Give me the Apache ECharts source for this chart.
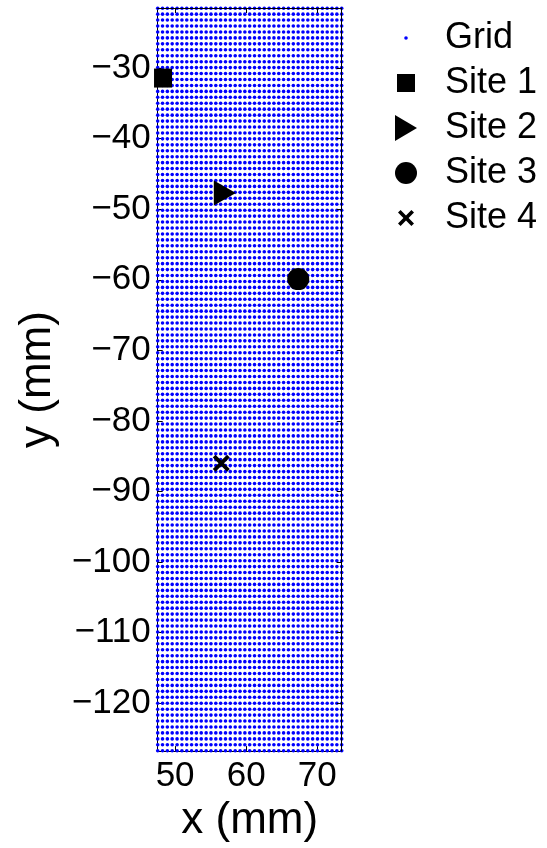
<!DOCTYPE html>
<html><head><meta charset="utf-8">
<script src="https://cdn.jsdelivr.net/npm/echarts@6/dist/echarts.min.js"></script>
<style>html,body{margin:0;padding:0;background:#fff}#c{width:547px;height:848px}</style>
</head><body><div id="c"></div>
<script>
// Grid sample positions (mm)
const gridX = [47.55,48.23,48.91,49.59,50.28,50.96,51.64,52.32,53.00,53.68,54.37,55.05,55.73,56.41,57.09,57.77,58.46,59.14,59.82,60.50,61.18,61.86,62.55,63.23,63.91,64.59,65.27,65.95,66.64,67.32,68.00,68.68,69.36,70.04,70.73,71.41,72.09,72.77,73.45];
const gridY = [-21.50,-22.34,-23.18,-24.03,-24.87,-25.71,-26.55,-27.39,-28.24,-29.08,-29.92,-30.76,-31.60,-32.45,-33.29,-34.13,-34.97,-35.81,-36.66,-37.50,
-38.34,-39.18,-40.02,-40.87,-41.71,-42.55,-43.39,-44.23,-45.08,-45.92,-46.76,-47.60,-48.44,-49.29,-50.13,-50.97,-51.81,-52.65,-53.50,-54.34,
-55.18,-56.02,-56.86,-57.71,-58.55,-59.39,-60.23,-61.07,-61.92,-62.76,-63.60,-64.44,-65.28,-66.13,-66.97,-67.81,-68.65,-69.49,-70.34,-71.18,
-72.02,-72.86,-73.70,-74.55,-75.39,-76.23,-77.07,-77.91,-78.76,-79.60,-80.44,-81.28,-82.12,-82.97,-83.81,-84.65,-85.49,-86.33,-87.18,-88.02,
-88.86,-89.70,-90.54,-91.39,-92.23,-93.07,-93.91,-94.75,-95.60,-96.44,-97.28,-98.12,-98.96,-99.81,-100.65,-101.49,-102.33,-103.17,-104.02,-104.86,
-105.70,-106.54,-107.38,-108.23,-109.07,-109.91,-110.75,-111.59,-112.44,-113.28,-114.12,-114.96,-115.80,-116.65,-117.49,-118.33,-119.17,-120.01,-120.86,-121.70,
-122.54,-123.38,-124.22,-125.07,-125.91,-126.75];

const siteNames = ['Site 1','Site 2','Site 3','Site 4'];
const siteX = [48.3, 57.0, 67.33, 56.5];
const siteY = [-31.4, -47.7, -59.9, -86.0];

const xTicks = [50, 60, 70];
const yTicks = [-30, -40, -50, -60, -70, -80, -90, -100, -110, -120];

const X_MIN = 47.55, X_MAX = 73.45, Y_MIN = -126.8, Y_MAX = -21.47;

// build lattice of grid points from the axis sample lists
const gridPts = [];
for (const y of gridY) for (const x of gridX) gridPts.push([x, y]);

const FONT = 'Liberation Sans';
const fmt = v => String(v).replace('-', '\u2212');

// legend icon paths in a 68x28 box (corner anchors keep scale 1:1)
const A = 'M0,0 L0,0 M68,28 L68,28 ';
const iconGrid = 'path://' + A + 'M32.2,14 A1.8,1.8 0 1 1 35.8,14 A1.8,1.8 0 1 1 32.2,14 Z';
const iconSq = 'path://' + A + 'M25,5 H43 V23 H25 Z';
const iconTri = 'path://' + A + 'M23,1 L45,14 L23,27 Z';
const iconCir = 'path://' + A + 'M23,14 A11,11 0 1 1 45,14 A11,11 0 1 1 23,14 Z';
const iconX = 'path://' + A + 'M26,8.6 L28.6,6 L34,11.4 L39.4,6 L42,8.6 L36.6,14 L42,19.4 L39.4,22 L34,16.6 L28.6,22 L26,19.4 L31.4,14 Z';

const symTri = 'path://M0,0 L1,0.5 L0,1 Z';
const symX = 'path://M0,0.16 L0.16,0 L0.5,0.34 L0.84,0 L1,0.16 L0.66,0.5 L1,0.84 L0.84,1 L0.5,0.66 L0.16,1 L0,0.84 L0.34,0.5 Z';

const siteSymbols = ['rect', symTri, 'circle', symX];
const siteSizes = [[18, 19], [22, 25], 22, 17];
const legendIcons = [iconSq, iconTri, iconCir, iconX];

const chart = echarts.init(document.getElementById('c'), null, {renderer: 'canvas'});

const axisCommon = {
  type: 'value',
  splitLine: {show: false},
  axisLine: {show: true, onZero: false, lineStyle: {color: '#000', width: 1}},
};

const series = [{
  name: 'Grid', type: 'scatter', data: gridPts, symbol: 'circle', symbolSize: 3.6,
  itemStyle: {color: '#0000ff', opacity: 1}, large: false, progressive: 0, silent: true, z: 2
}];
siteNames.forEach((n, i) => {
  series.push({
    name: n, type: 'scatter', data: [[siteX[i], siteY[i]]],
    symbol: siteSymbols[i], symbolSize: siteSizes[i],
    itemStyle: {color: '#000', opacity: 1}, z: 5
  });
});

chart.setOption({
  animation: false,
  backgroundColor: '#fff',
  grid: {left: 157.7, right: 205.3, top: 8, bottom: 96.3, show: false},
  xAxis: [
    Object.assign({}, axisCommon, {
      position: 'bottom', min: X_MIN, max: X_MAX,
      axisTick: {show: true, inside: true, length: 5, customValues: xTicks, lineStyle: {color: '#000'}},
      axisLabel: {customValues: xTicks, formatter: fmt, fontFamily: FONT, fontSize: 35, color: '#000', margin: 8},
      name: 'x (mm)', nameLocation: 'middle', nameGap: 45,
      nameTextStyle: {fontFamily: FONT, fontSize: 44, color: '#000'}
    }),
    Object.assign({}, axisCommon, {
      position: 'top', min: X_MIN, max: X_MAX, z: 10,
      axisTick: {show: true, inside: true, length: 5, customValues: xTicks, lineStyle: {color: '#000'}},
      axisLabel: {show: false}
    })
  ],
  yAxis: [
    Object.assign({}, axisCommon, {
      position: 'left', min: Y_MIN, max: Y_MAX,
      axisTick: {show: true, inside: true, length: 5, customValues: yTicks, lineStyle: {color: '#000'}},
      axisLabel: {customValues: yTicks, formatter: fmt, fontFamily: FONT, fontSize: 35, color: '#000', margin: 7},
      name: 'y (mm)', nameLocation: 'middle', nameGap: 98, nameRotate: 90,
      nameTextStyle: {fontFamily: FONT, fontSize: 44, color: '#000'}
    }),
    Object.assign({}, axisCommon, {
      position: 'right', min: Y_MIN, max: Y_MAX, z: 10,
      axisTick: {show: true, inside: true, length: 5, customValues: yTicks, lineStyle: {color: '#000'}},
      axisLabel: {show: false}
    })
  ],
  legend: {
    orient: 'vertical', left: 372, top: 20, padding: 0,
    itemWidth: 68, itemHeight: 28, itemGap: 9,
    textStyle: {fontFamily: FONT, fontSize: 36, color: '#000', lineHeight: 36},
    data: [{name: 'Grid', icon: iconGrid}].concat(siteNames.map((n, i) => ({name: n, icon: legendIcons[i]}))),
    selectedMode: false
  },
  series: series
});
</script>
</body></html>
